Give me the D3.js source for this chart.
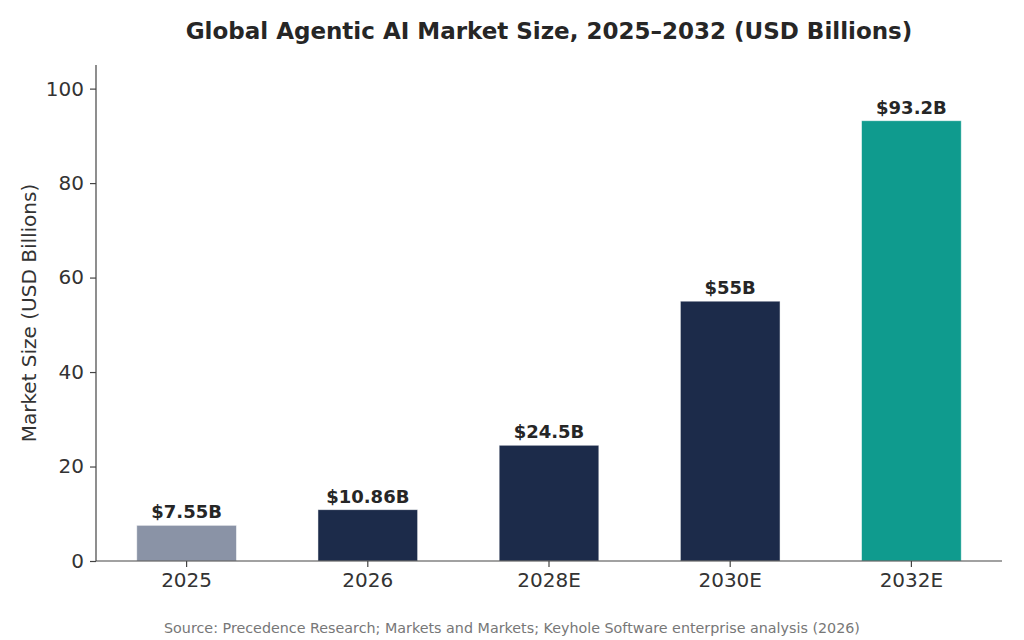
<!DOCTYPE html>
<html>
<head>
<meta charset="utf-8">
<script src="https://cdn.jsdelivr.net/npm/d3@7"></script>
<style>
  body { margin: 0; background: #fff; }
  text { font-family: "DejaVu Sans", sans-serif; }
</style>
</head>
<body>
<div id="chart"></div>
<script>
var years = ["2025", "2026", "2028E", "2030E", "2032E"];
var marketSize = [7.55, 10.86, 24.5, 55, 93.2];
var valueLabels = ["$7.55B", "$10.86B", "$24.5B", "$55B", "$93.2B"];
var barColors = ["#8a93a6", "#1c2b4a", "#1c2b4a", "#1c2b4a", "#0f9b8e"];
var yTicks = [0, 20, 40, 60, 80, 100];

var w = 1024;
var h = 640;
var margin = { top: 65, right: 22, bottom: 79, left: 96 };
var plotW = w - margin.left - margin.right;
var plotH = h - margin.top - margin.bottom;

var svg = d3.select("#chart")
  .append("svg")
  .attr("width", w)
  .attr("height", h);

var g = svg.append("g")
  .attr("transform", "translate(" + margin.left + "," + margin.top + ")");

var xScale = d3.scaleBand()
  .domain(years)
  .range([0, plotW])
  .paddingInner(0.45)
  .paddingOuter(0.225);

var yScale = d3.scaleLinear()
  .domain([0, 105])
  .range([plotH, 0]);

var bars = years.map(function(y, i) {
  return { year: y, value: marketSize[i], label: valueLabels[i], color: barColors[i] };
});

g.selectAll("rect.bar")
  .data(bars)
  .enter()
  .append("rect")
  .attr("class", "bar")
  .attr("x", function(d) { return xScale(d.year); })
  .attr("y", function(d) { return yScale(d.value); })
  .attr("width", xScale.bandwidth())
  .attr("height", function(d) { return plotH - yScale(d.value); })
  .attr("fill", function(d) { return d.color; })
  .attr("stroke", "#ffffff")
  .attr("stroke-opacity", 0.6)
  .attr("stroke-width", 0.8);

g.selectAll("text.valueLabel")
  .data(bars)
  .enter()
  .append("text")
  .attr("class", "valueLabel")
  .attr("x", function(d) { return xScale(d.year) + xScale.bandwidth() / 2; })
  .attr("y", function(d) { return yScale(d.value) - 7; })
  .attr("text-anchor", "middle")
  .attr("fill", "#262626")
  .style("font-size", "18px")
  .style("font-weight", "bold")
  .text(function(d) { return d.label; });

var yAxis = g.append("g")
  .call(d3.axisLeft(yScale).tickValues(yTicks).tickSize(6).tickPadding(6));

var xAxis = g.append("g")
  .attr("transform", "translate(0," + plotH + ")")
  .call(d3.axisBottom(xScale).tickSize(6).tickPadding(6));

[yAxis, xAxis].forEach(function(ax) {
  ax.select(".domain").attr("stroke", "#444").attr("stroke-width", 1.2);
  ax.selectAll(".tick line").attr("stroke", "#444").attr("stroke-width", 1.2);
  ax.selectAll(".tick text")
    .attr("fill", "#333")
    .style("font-size", "20px")
    .style("font-family", "DejaVu Sans, sans-serif");
});

// plain spines, no outer tick caps
xAxis.select(".domain").attr("d", "M0,0H" + plotW);
yAxis.select(".domain").attr("d", "M0," + plotH + "V0");

svg.append("text")
  .attr("x", margin.left + plotW / 2)
  .attr("y", 39)
  .attr("text-anchor", "middle")
  .attr("fill", "#262626")
  .style("font-size", "23px")
  .style("font-weight", "bold")
  .text("Global Agentic AI Market Size, 2025–2032 (USD Billions)");

svg.append("text")
  .attr("transform", "translate(36," + (margin.top + plotH / 2) + ") rotate(-90)")
  .attr("text-anchor", "middle")
  .attr("fill", "#333")
  .style("font-size", "20px")
  .text("Market Size (USD Billions)");

svg.append("text")
  .attr("x", 512)
  .attr("y", 633)
  .attr("text-anchor", "middle")
  .attr("fill", "#777")
  .style("font-size", "14.3px")
  .text("Source: Precedence Research; Markets and Markets; Keyhole Software enterprise analysis (2026)");
</script>
</body>
</html>
